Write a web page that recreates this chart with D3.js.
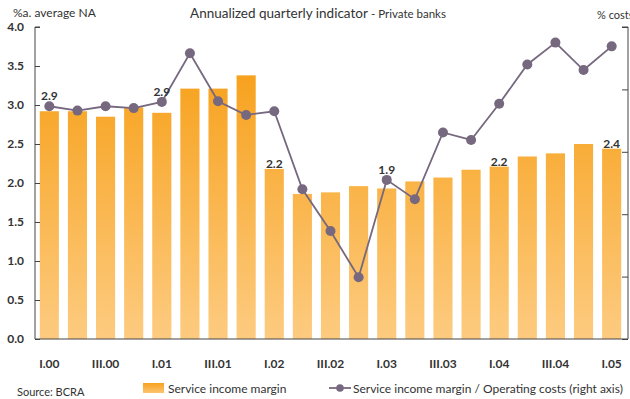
<!DOCTYPE html>
<html>
<head>
<meta charset="utf-8">
<script src="https://cdn.jsdelivr.net/npm/d3@7"></script>
<style>
  html, body { margin: 0; padding: 0; background: #fff; overflow: hidden; }
  svg { display: block; font-family: Lato, "Open Sans", sans-serif; }
</style>
</head>
<body>
<svg id="chart" width="630" height="399"></svg>
<script>
// Quarters from I.00 to I.05
const quarters = ["I.00","II.00","III.00","IV.00","I.01","II.01","III.01","IV.01",
  "I.02","II.02","III.02","IV.02","I.03","II.03","III.03","IV.03",
  "I.04","II.04","III.04","IV.04","I.05"];
// Service income margin (%a. of average net assets) - left axis
const margin = [2.92,2.92,2.85,2.97,2.90,3.21,3.21,3.38,2.18,1.86,1.88,1.96,1.93,2.02,2.07,2.17,2.21,2.34,2.38,2.50,2.44];
// Service income margin / Operating costs (%) - right axis
const coverage = [67.3,66.6,67.3,67.0,68.0,75.8,68.1,65.9,66.5,54.0,47.3,39.9,55.5,52.4,63.1,61.9,67.7,74.0,77.5,73.1,76.9];
// Quarters whose bar carries a value label
const labelled = ["I.00","I.01","I.02","I.03","I.04","I.05"];
const xTickLabels = ["I.00","III.00","I.01","III.01","I.02","III.02","I.03","III.03","I.04","III.04","I.05"];
const leftTicks = [0,0.5,1,1.5,2,2.5,3,3.5,4];
const rightTicks = [30,40,50,60,70,80];

const svg = d3.select("#chart");
const plot = {left: 35, right: 628, top: 27, bottom: 339};

const x = d3.scaleBand().domain(quarters)
  .range([plot.left, plot.right - 2]).paddingInner(0.32).paddingOuter(0.17);
const yL = d3.scaleLinear().domain([0, 4]).range([plot.bottom, plot.top]);
const yR = d3.scaleLinear().domain([30, 80]).range([plot.bottom, plot.top]);

// vertical gradient for the bars
const defs = svg.append("defs");
const grad = defs.append("linearGradient").attr("id", "barGrad")
  .attr("gradientUnits", "userSpaceOnUse")
  .attr("x1", 0).attr("x2", 0).attr("y1", yL(3.4)).attr("y2", plot.bottom);
grad.append("stop").attr("offset", "0%").attr("stop-color", "#F7A21E");
grad.append("stop").attr("offset", "100%").attr("stop-color", "#FDCB80");
const legGrad = defs.append("linearGradient").attr("id", "legGrad")
  .attr("x1", 0).attr("x2", 0).attr("y1", 0).attr("y2", 1);
legGrad.append("stop").attr("offset", "0%").attr("stop-color", "#F7A21E");
legGrad.append("stop").attr("offset", "100%").attr("stop-color", "#FDC470");

// bars
svg.append("g").selectAll("rect").data(quarters).join("rect")
  .attr("x", d => x(d))
  .attr("width", x.bandwidth())
  .attr("y", (d, i) => yL(margin[i]))
  .attr("height", (d, i) => plot.bottom - yL(margin[i]))
  .attr("fill", "url(#barGrad)");

// axes
const axisColor = "#444";
const gL = svg.append("g").attr("transform", `translate(${plot.left},0)`)
  .call(d3.axisRight(yL).tickValues(leftTicks).tickSize(5).tickFormat(d3.format(".1f")));
gL.select(".domain").attr("stroke", axisColor).attr("d", `M5,${plot.top}H0V${plot.bottom}`);
gL.selectAll(".tick line").attr("stroke", axisColor);
gL.selectAll(".tick text").attr("x", -11).attr("text-anchor", "end")
  .attr("fill", "#333").attr("font-size", 12).attr("font-weight", "bold")
  .attr("font-family", "Lato, sans-serif");

// right axis: its tick labels fall past the right edge of the frame
const gR = svg.append("g").attr("transform", `translate(${plot.right},0)`)
  .call(d3.axisLeft(yR).tickValues(rightTicks).tickSize(6).tickFormat(""));
gR.select(".domain").attr("stroke", axisColor).attr("d", `M-6,${plot.top}H0V${plot.bottom}`);
gR.selectAll(".tick line").attr("stroke", axisColor);

const gX = svg.append("g").attr("transform", `translate(0,${plot.bottom})`)
  .call(d3.axisBottom(x).tickValues(xTickLabels).tickSize(0).tickPadding(20));
gX.select(".domain").attr("stroke", axisColor).attr("d", `M${plot.left},0H${plot.right}`);
gX.selectAll(".tick text").attr("fill", "#333").attr("font-size", 12)
  .attr("font-weight", "bold").attr("font-family", "Lato, sans-serif");

// ratio line with markers
const cx = d => x(d) + x.bandwidth() / 2;
const line = d3.line().x((d, i) => cx(quarters[i])).y(d => yR(d));
svg.append("path").datum(coverage).attr("d", line)
  .attr("fill", "none").attr("stroke", "#76687F").attr("stroke-width", 1.8);
svg.append("g").selectAll("circle").data(coverage).join("circle")
  .attr("cx", (d, i) => cx(quarters[i])).attr("cy", d => yR(d))
  .attr("r", 5).attr("fill", "#76687F");

// value labels on selected bars, lifted above the line marker when it sits close
svg.append("g").selectAll("text").data(labelled).join("text")
  .attr("x", d => cx(d))
  .attr("y", d => {
    const i = quarters.indexOf(d);
    const barTop = yL(margin[i]);
    const pt = yR(coverage[i]);
    return (pt < barTop && barTop - pt < 16) ? pt - 6 : barTop - 1;
  })
  .attr("text-anchor", "middle").attr("font-size", 12).attr("font-weight", "bold")
  .attr("fill", "#333")
  .text(d => d3.format(".1f")(margin[quarters.indexOf(d)]));

// titles
const title = svg.append("text").attr("x", 318).attr("y", 18).attr("text-anchor", "middle")
  .attr("fill", "#333");
title.append("tspan").attr("font-size", 13.5).text("Annualized quarterly indicator ");
title.append("tspan").attr("font-size", 11.5).text("- Private banks");
svg.append("text").attr("x", 13).attr("y", 17).attr("font-size", 12).attr("fill", "#333")
  .text("%a. average NA");
svg.append("text").attr("x", 597).attr("y", 19).attr("font-size", 11).attr("fill", "#333")
  .text("% costs");
svg.append("text").attr("x", 17).attr("y", 396).attr("font-size", 11).attr("fill", "#333")
  .text("Source: BCRA");

// legend
const leg = svg.append("g");
leg.append("rect").attr("x", 143).attr("y", 383).attr("width", 21).attr("height", 10)
  .attr("fill", "url(#legGrad)");
leg.append("text").attr("x", 168).attr("y", 393).attr("font-size", 12).attr("fill", "#333")
  .text("Service income margin");
leg.append("line").attr("x1", 329).attr("x2", 351).attr("y1", 388).attr("y2", 388)
  .attr("stroke", "#76687F").attr("stroke-width", 1.8);
leg.append("circle").attr("cx", 340).attr("cy", 388).attr("r", 3.8).attr("fill", "#76687F");
leg.append("text").attr("x", 353).attr("y", 393).attr("font-size", 12).attr("fill", "#333")
  .text("Service income margin / Operating costs (right axis)");
</script>
</body>
</html>
